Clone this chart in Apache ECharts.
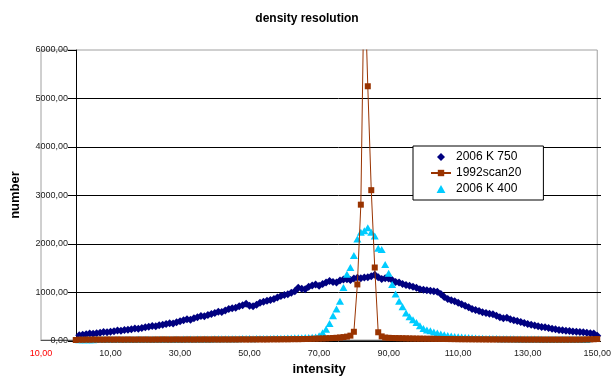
<!DOCTYPE html>
<html>
<head>
<meta charset="utf-8">
<script src="https://cdn.jsdelivr.net/npm/echarts@6/dist/echarts.min.js"></script>
<style>html,body{margin:0;padding:0;background:#fff;}#c{width:614px;height:381px;}</style>
</head>
<body>
<div id="c"></div>
<script>
// ---- data ----
const seriesNames = ['2006 K 750', '1992scan20', '2006 K 400'];
const xTickValues = [-10, 10, 30, 50, 70, 90, 110, 130, 150];
const yTickValues = [0, 1000, 2000, 3000, 4000, 5000, 6000];

// 2006 K 750 : intensity 1..150
const k750Start = 1;
const k750 = [
  100, 110, 120, 132, 128, 140, 150, 165, 160, 172,
  180, 195, 190, 205, 212, 222, 238, 232, 250, 262,
  275, 292, 285, 305, 318, 330, 348, 340, 368, 390,
  410, 428, 420, 448, 470, 498, 490, 515, 540, 560,
  585, 578, 610, 640, 655, 668, 700, 720, 750, 710,
  700, 730, 770, 790, 810, 830, 850, 880, 910, 930,
  948, 980, 1010, 1080, 1060, 1052, 1100, 1130, 1150, 1120,
  1160, 1190, 1220, 1200, 1190, 1230, 1250, 1258, 1240, 1270,
  1290, 1280, 1292, 1300, 1320, 1350, 1300, 1260, 1280, 1270,
  1240, 1200, 1190, 1160, 1140, 1120, 1100, 1080, 1050, 1040,
  1030, 1020, 1010, 1000, 950, 890, 850, 820, 800, 770,
  740, 710, 680, 640, 620, 600, 575, 560, 545, 535,
  500, 470, 450, 460, 430, 410, 395, 370, 350, 330,
  315, 300, 285, 270, 262, 250, 235, 220, 205, 200,
  190, 185, 178, 170, 165, 158, 150, 142, 135, 90
];

// 1992scan20 : intensity 0..150
const scan20Start = 0;
const scan20 = [
  0, 8, 6, 9, 7, 10, 8, 9, 7, 10,
  9, 8, 10, 9, 8, 10, 9, 8, 10, 9,
  10, 9, 8, 10, 9, 11, 10, 9, 10, 11,
  10, 9, 11, 10, 9, 11, 10, 12, 10, 11,
  12, 10, 11, 12, 10, 12, 11, 12, 13, 11,
  12, 13, 12, 14, 12, 13, 14, 15, 14, 15,
  16, 15, 17, 18, 17, 19, 21, 22, 25, 27,
  30, 32, 35, 38, 42, 46, 52, 60, 70, 90,
  170, 1150, 2800, 7700, 5250, 3100, 1500, 160, 75, 50,
  45, 42, 40, 38, 36, 34, 32, 30, 29, 28,
  27, 26, 25, 24, 23, 22, 21, 20, 19, 18,
  17, 16, 16, 15, 15, 14, 14, 13, 13, 12,
  12, 12, 11, 11, 11, 10, 10, 10, 10, 9,
  9, 9, 9, 9, 8, 8, 8, 8, 8, 8,
  8, 8, 8, 8, 8, 9, 10, 12, 14, 16, 20
];

// 2006 K 400 : intensity 1..147
const k400Start = 1;
const k400 = [
  5, 6, 6, 7, 7, 8, 8, 9, 9, 10,
  10, 10, 11, 11, 12, 12, 12, 13, 13, 14,
  14, 14, 15, 15, 16, 16, 17, 17, 18, 18,
  19, 19, 20, 20, 21, 21, 22, 22, 23, 24,
  24, 25, 26, 26, 27, 28, 28, 29, 30, 31,
  28, 29, 30, 31, 32, 33, 34, 35, 36, 38,
  40, 42, 44, 46, 48, 50, 52, 55, 62, 90,
  150, 220, 340, 500, 640, 800, 1086, 1361, 1500, 1750,
  2090, 2230, 2260, 2320, 2230, 2150, 1900, 1870, 1560, 1380,
  1150, 950, 800, 690, 560, 480, 420, 360, 296, 240,
  205, 190, 165, 145, 124, 110, 95, 82, 75, 68,
  62, 56, 50, 46, 42, 38, 35, 33, 31, 30,
  29, 28, 27, 26, 25, 24, 23, 22, 21, 20,
  20, 19, 19, 18, 18, 17, 17, 16, 16, 15,
  15, 14, 14, 13, 13, 12, 12
];

function pairs(start, vals) { return vals.map((v, i) => [start + i, v]); }
function fmt(v) { return Math.abs(v).toFixed(2).replace('.', ','); }

const FONT = 'Liberation Sans, Arial, sans-serif';
const DIAMOND = 'path://M5,0L10,5L5,10L0,5Z';
const TRIANGLE = 'path://M5,0L10,9L0,9Z';
const chart = echarts.init(document.getElementById('c'), null, {renderer: 'canvas'});
chart.setOption({
  animation: false,
  backgroundColor: '#ffffff',
  title: {
    text: 'density resolution', left: 'center', top: 8,
    textStyle: {fontFamily: FONT, fontSize: 12, fontWeight: 'bold', color: '#000'}
  },
  legend: {
    orient: 'vertical', left: 413, top: 146,
    padding: [5, 22, 5, 17], itemGap: 4, itemWidth: 20, itemHeight: 8, itemTextGap: 3,
    borderColor: '#000', borderWidth: 1, backgroundColor: '#fff', symbolKeepAspect: true,
    textStyle: {fontFamily: FONT, fontSize: 12, color: '#000'},
    data: [
      {name: seriesNames[0], icon: DIAMOND},
      {name: seriesNames[1]},
      {name: seriesNames[2], icon: TRIANGLE}
    ]
  },
  grid: [
    {left: 41, right: 13, top: 50, bottom: 40, show: true, borderColor: '#a0a0a0', borderWidth: 1, backgroundColor: '#fff'},
    {left: 76, right: 13, top: 50, bottom: 40}
  ],
  xAxis: [
    {
      type: 'value', gridIndex: 0, min: xTickValues[0], max: xTickValues[xTickValues.length - 1], interval: 20,
      name: 'intensity', nameLocation: 'middle', nameGap: 23,
      nameTextStyle: {fontFamily: FONT, fontSize: 13, fontWeight: 'bold', color: '#000'},
      axisLine: {onZero: false, lineStyle: {color: '#555'}},
      axisTick: {show: false}, splitLine: {show: false},
      axisLabel: {fontFamily: FONT, fontSize: 9, margin: 9, formatter: fmt,
        color: (v) => (Number(v) < 0 ? '#ff0000' : '#222')}
    },
    {type: 'value', gridIndex: 1, min: 0, max: 150, show: false}
  ],
  yAxis: [
    {
      type: 'value', gridIndex: 0, min: 0, max: 6000, interval: 1000,
      name: 'number', nameLocation: 'middle', nameGap: 19, nameRotate: 90,
      nameTextStyle: {fontFamily: FONT, fontSize: 13, fontWeight: 'bold', color: '#000'},
      axisLine: {show: false}, axisTick: {show: false}, axisLabel: {show: false}, splitLine: {show: false}
    },
    {
      type: 'value', gridIndex: 1, min: yTickValues[0], max: yTickValues[yTickValues.length - 1], interval: 1000,
      axisLine: {show: true, lineStyle: {color: '#000'}},
      axisTick: {show: true, length: 8, lineStyle: {color: '#000'}},
      axisLabel: {fontFamily: FONT, fontSize: 9, margin: 8, color: '#222', formatter: fmt},
      splitLine: {show: true, showMaxLine: false, lineStyle: {color: '#000', width: 1}}
    }
  ],
  series: [
    {
      name: seriesNames[0], type: 'scatter', xAxisIndex: 0, yAxisIndex: 0,
      symbol: 'diamond', symbolSize: 8, itemStyle: {color: '#000080', opacity: 1},
      data: pairs(k750Start, k750)
    },
    {
      name: seriesNames[1], type: 'line', xAxisIndex: 0, yAxisIndex: 0,
      symbol: 'rect', symbolSize: 6, showSymbol: true, showAllSymbol: true, clip: true,
      lineStyle: {color: '#993300', width: 1}, itemStyle: {color: '#993300'},
      data: pairs(scan20Start, scan20)
    },
    {
      name: seriesNames[2], type: 'scatter', xAxisIndex: 0, yAxisIndex: 0,
      symbol: 'triangle', symbolSize: [8, 7], itemStyle: {color: '#00CCFF', opacity: 1},
      data: pairs(k400Start, k400)
    }
  ]
});
</script>
</body>
</html>
